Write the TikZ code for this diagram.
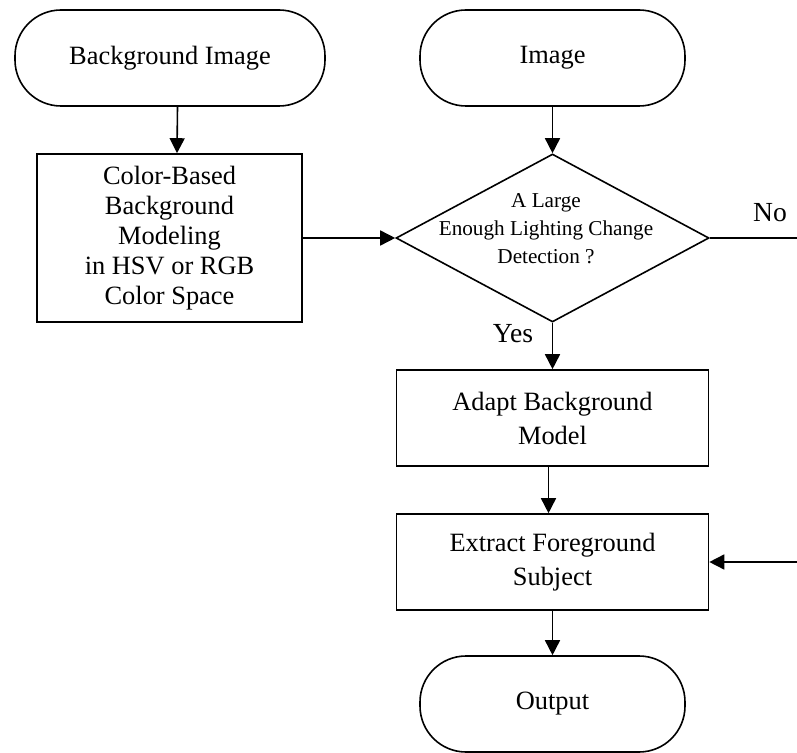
\documentclass[tikz,border=0pt]{standalone}
\usepackage{fontspec}
\setmainfont{Liberation Serif}
\usetikzlibrary{shapes.geometric,arrows.meta}
\begin{document}
\begin{tikzpicture}[x=0.5pt,y=-0.5pt,
        terminal/.style={draw, line width=0.8pt, rectangle, rounded corners=23pt, minimum height=48pt, align=center, font=\fontsize{13.2}{15}\selectfont},
        process/.style={draw, line width=0.8pt, rectangle, minimum width=156pt, minimum height=48pt, align=center, font=\fontsize{13.2}{17}\selectfont},
        decision/.style={draw, line width=0.8pt, diamond, minimum width=156.5pt, minimum height=84pt, inner sep=0pt},
        flow/.style={line width=0.8pt, -{Triangle[length=7.5pt,width=7.5pt]}},
        tag/.style={font=\fontsize{13.8}{16}\selectfont, inner sep=0pt}]
    \useasboundingbox (0,0) rectangle (797,753);
    \node[terminal, minimum width=155pt] (bgimg) at (170,58) {Background Image};
    \node[process, minimum width=132.5pt, minimum height=84pt, font=\fontsize{13.2}{15}\selectfont] (model) at (169.5,238) {Color-Based\\Background\\Modeling\\in HSV or RGB\\Color Space};
    \node[terminal, minimum width=132.5pt] (img) at (552.5,58) {Image};
    \node[decision] (det) at (552.5,238) {};
    \node[align=center, font=\fontsize{10.6}{14}\selectfont] (dettext) at (546,229) {A Large\\Enough Lighting Change\\Detection ?};
    \node[process] (adapt) at (552.5,418) {Adapt Background\\Model};
    \node[process] (extract) at (552.5,562) {Extract Foreground\\Subject};
    \node[terminal, minimum width=132.5pt] (output) at (552.5,704) {Output};
    \node[tag] (yes) at (513,334) {Yes};
    \node[tag] (no) at (770,213) {No};
    \coordinate (noend) at (797,238);
    \coordinate (backin) at (797,562);
    \draw[flow] ([xshift=3.75pt]bgimg.south) -- ([xshift=3.75pt]model.north);
    \draw[flow] (model.east) -- (det.west);
    \draw[flow] (img.south) -- (det.north);
    \draw[line width=0.8pt] (det.east) -- (noend);
    \draw[flow] (det.south) -- (adapt.north);
    \draw[flow] ([xshift=-2pt]adapt.south) -- ([xshift=-2pt]extract.north);
    \draw[flow] (backin) -- (extract.east);
    \draw[flow] (extract.south) -- (output.north);
\end{tikzpicture}
\end{document}
